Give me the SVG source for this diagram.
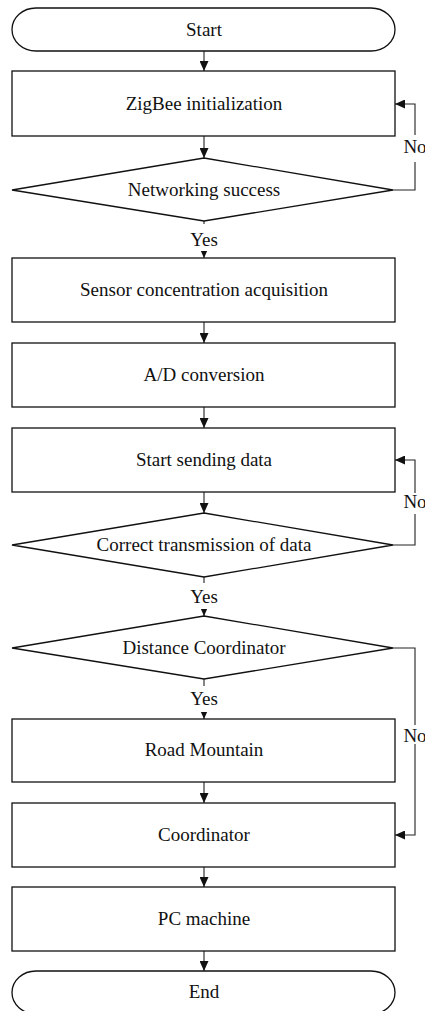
<svg xmlns="http://www.w3.org/2000/svg" width="425" height="1011" viewBox="0 0 425 1011">
  <style>
    .shape { fill: #ffffff; stroke: #111111; stroke-width: 1.3; }
    .label { font-family: "Liberation Serif", "Times New Roman", serif; font-size: 19px; fill: #111111; text-anchor: middle; }
    .edge { fill: none; stroke: #222222; stroke-width: 1.1; }
    .mask { fill: #ffffff; stroke: none; }
  </style>
  <defs>
    <marker id="arrow" markerUnits="userSpaceOnUse" markerWidth="10" markerHeight="9" refX="10" refY="4.5" orient="auto">
      <path d="M0,0 L10,4.5 L0,9 z" fill="#111111"/>
    </marker>
  </defs>
  <rect width="425" height="1011" fill="#ffffff"/>

  <!-- connectors -->
  <g id="connectors">
    <path class="edge" d="M204,51 V71" marker-end="url(#arrow)"/>
    <path class="edge" d="M204,136 V158" marker-end="url(#arrow)"/>
    <path class="edge" d="M204,221 V258" marker-end="url(#arrow)"/>
    <path class="edge" d="M204,322 V343" marker-end="url(#arrow)"/>
    <path class="edge" d="M204,407 V428" marker-end="url(#arrow)"/>
    <path class="edge" d="M204,492 V513" marker-end="url(#arrow)"/>
    <path class="edge" d="M204,577 V616" marker-end="url(#arrow)"/>
    <path class="edge" d="M204,679 V719" marker-end="url(#arrow)"/>
    <path class="edge" d="M204,782 V803" marker-end="url(#arrow)"/>
    <path class="edge" d="M204,867 V887" marker-end="url(#arrow)"/>
    <path class="edge" d="M204,951 V971" marker-end="url(#arrow)"/>
    <!-- loop-back and skip branches -->
    <path class="edge" d="M393,190 H415 V104 H395" marker-end="url(#arrow)"/>
    <path class="edge" d="M393,545 H415 V460 H395" marker-end="url(#arrow)"/>
    <path class="edge" d="M393,648 H415 V835 H395" marker-end="url(#arrow)"/>

    <!-- branch labels -->
    <rect class="mask" x="188" y="224" width="32" height="27"/>
    <text class="label" x="204" y="246">Yes</text>
    <rect class="mask" x="188" y="583" width="32" height="26"/>
    <text class="label" x="204" y="603">Yes</text>
    <rect class="mask" x="188" y="686" width="32" height="26"/>
    <text class="label" x="204" y="705">Yes</text>

    <rect class="mask" x="402" y="135" width="23" height="27"/>
    <text class="label" x="415" y="153">No</text>
    <rect class="mask" x="402" y="493" width="23" height="21"/>
    <text class="label" x="415" y="508">No</text>
    <rect class="mask" x="402" y="725" width="23" height="19"/>
    <text class="label" x="415" y="742">No</text>
  </g>

  <g id="start">
    <rect class="shape" x="12" y="8" width="383" height="43" rx="24" ry="21.5"/>
    <text class="label" x="204" y="36">Start</text>
  </g>
  <g id="zigbee-init">
    <rect class="shape" x="12" y="71" width="383" height="65"/>
    <text class="label" x="204" y="110">ZigBee initialization</text>
  </g>
  <g id="networking-success">
    <polygon class="shape" points="204,158 393,190 204,221 12,190"/>
    <text class="label" x="204" y="196">Networking success</text>
  </g>
  <g id="sensor-acquisition">
    <rect class="shape" x="12" y="258" width="383" height="64"/>
    <text class="label" x="204" y="296">Sensor concentration acquisition</text>
  </g>
  <g id="ad-conversion">
    <rect class="shape" x="12" y="343" width="383" height="64"/>
    <text class="label" x="204" y="381">A/D conversion</text>
  </g>
  <g id="start-sending">
    <rect class="shape" x="12" y="428" width="383" height="64"/>
    <text class="label" x="204" y="466">Start sending data</text>
  </g>
  <g id="correct-transmission">
    <polygon class="shape" points="204,513 393,545 204,577 12,545"/>
    <text class="label" x="204" y="551">Correct transmission of data</text>
  </g>
  <g id="distance-coordinator">
    <polygon class="shape" points="204,616 393,648 204,679 12,648"/>
    <text class="label" x="204" y="654">Distance Coordinator</text>
  </g>
  <g id="road-mountain">
    <rect class="shape" x="12" y="719" width="383" height="63"/>
    <text class="label" x="204" y="756">Road Mountain</text>
  </g>
  <g id="coordinator">
    <rect class="shape" x="12" y="803" width="383" height="64"/>
    <text class="label" x="204" y="841">Coordinator</text>
  </g>
  <g id="pc-machine">
    <rect class="shape" x="12" y="887" width="383" height="64"/>
    <text class="label" x="204" y="925">PC machine</text>
  </g>
  <g id="end">
    <rect class="shape" x="12" y="971" width="383" height="43" rx="24" ry="21.5"/>
    <text class="label" x="204" y="998">End</text>
  </g>
</svg>
